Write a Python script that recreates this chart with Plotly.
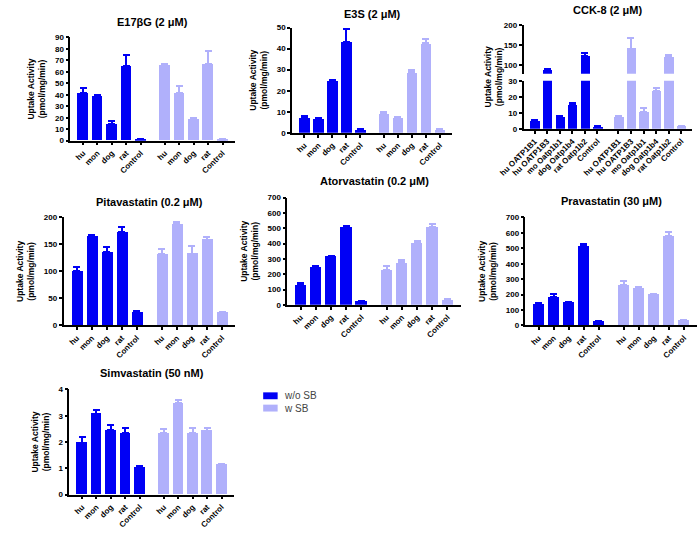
import plotly.graph_objects as go

species = ["hu", "mon", "dog", "rat", "Control"]
cck_labels = ["hu OATP1B1", "hu OATP1B3", "mo Oatp1b1", "dog Oatp1b4", "rat Oatp1b2", "Control"]
series_names = ["w/o SB", "w SB"]

# E17betaG (2 uM)
e17_wo = [41.5, 38.3, 14.5, 65.1, 1.2]
e17_wo_top = [46.0, 40.0, 16.9, 75.1, 1.6]
e17_w = [65.7, 41.5, 18.2, 66.9, 0.9]
e17_w_top = [67.1, 47.7, 19.6, 78.3, 1.1]

# E3S (2 uM)
e3s_wo = [7.3, 6.7, 24.9, 43.2, 1.5]
e3s_wo_top = [7.8, 6.9, 25.2, 49.4, 1.7]
e3s_w = [9.3, 7.2, 28.8, 42.5, 1.7]
e3s_w_top = [9.7, 7.4, 29.9, 44.6, 1.9]

# CCK-8 (2 uM)
cck_wo = [4.9, 85.0, 7.5, 15.3, 122.0, 1.2]
cck_wo_top = [5.3, 89.0, 7.8, 15.9, 131.0, 1.5]
cck_w = [7.6, 141.0, 10.8, 23.7, 120.0, 1.8]
cck_w_top = [7.8, 167.0, 12.9, 25.2, 125.0, 1.9]

# Pitavastatin (0.2 uM)
pita_wo = [100, 165, 135, 173, 25]
pita_wo_top = [108, 168, 145, 183, 26]
pita_w = [132, 187, 133, 159, 25]
pita_w_top = [141, 192, 147, 163, 25.5]

# Atorvastatin (0.2 uM)
ator_wo = [132, 249, 318, 510, 26]
ator_wo_top = [141, 251, 320, 518, 28]
ator_w = [228, 277, 403, 510, 32]
ator_w_top = [254, 292, 420, 527, 35]

# Pravastatin (30 uM)
prav_wo = [134, 185, 149, 512, 25]
prav_wo_top = [144, 206, 155, 527, 27]
prav_w = [261, 242, 200, 578, 32]
prav_w_top = [287, 246, 206, 605, 35]

# Simvastatin (50 nM)
simv_wo = [1.97, 3.07, 2.45, 2.33, 1.05]
simv_wo_top = [2.18, 3.22, 2.64, 2.55, 1.09]
simv_w = [2.33, 3.48, 2.33, 2.43, 1.13]
simv_w_top = [2.50, 3.58, 2.55, 2.53, 1.15]

C_WO = "#0000f5"
C_W = "#b0b0fb"
FONT = "Arial, Liberation Sans, sans-serif"
GROUP_GAP = 0.67
YTITLE = "Uptake Activity<br>(pmol/mg/min)"

fig = go.Figure()


def positions(n):
    a = [float(i) for i in range(n)]
    b = [n + GROUP_GAP + i for i in range(n)]
    return a, b


def add_panel(k, labels, wo, wo_top, w, w_top):
    n = len(labels)
    pa, pb = positions(n)
    xs = "x" if k == 1 else f"x{k}"
    ys = "y" if k == 1 else f"y{k}"
    for pos, vals, top, col, name in [(pa, wo, wo_top, C_WO, series_names[0]),
                                      (pb, w, w_top, C_W, series_names[1])]:
        fig.add_trace(go.Bar(
            x=pos, y=vals, xaxis=xs, yaxis=ys, name=name,
            marker=dict(color=col, line=dict(width=0)), width=0.74,
            error_y=dict(type="data", symmetric=False,
                         array=[t - v for t, v in zip(top, vals)],
                         arrayminus=[0] * n, color=col, thickness=2, width=3.5),
            showlegend=False,
        ))


add_panel(1, species, e17_wo, e17_wo_top, e17_w, e17_w_top)
add_panel(2, species, e3s_wo, e3s_wo_top, e3s_w, e3s_w_top)
add_panel(3, cck_labels, cck_wo, cck_wo_top, cck_w, cck_w_top)
add_panel(8, cck_labels, cck_wo, cck_wo_top, cck_w, cck_w_top)
add_panel(4, species, pita_wo, pita_wo_top, pita_w, pita_w_top)
add_panel(5, species, ator_wo, ator_wo_top, ator_w, ator_w_top)
add_panel(6, species, prav_wo, prav_wo_top, prav_w, prav_w_top)
add_panel(7, species, simv_wo, simv_wo_top, simv_w, simv_w_top)

W, H = 700, 535


def px_x(a, b):
    return [a / W, b / W]


def px_y(top, bottom):
    return [1 - bottom / H, 1 - top / H]


panels = {
    1: dict(xd=px_x(47, 218), yd=px_y(34, 139), yr=[0, 90], dt=10, labels=species, title="E17βG (2 μM)", ty=18),
    2: dict(xd=px_x(277, 443), yd=px_y(24, 131), yr=[0, 50], dt=10, labels=species, title="E3S (2 μM)", ty=10),
    3: dict(xd=px_x(517, 692), yd=px_y(78, 127), yr=[0, 30], dt=10, labels=cck_labels, title="CCK-8 (2 μM)", ty=6),
    4: dict(xd=px_x(40, 218), yd=px_y(217, 327), yr=[0, 200], dt=50, labels=species, title="Pitavastatin (0.2 μM)", ty=201),
    5: dict(xd=px_x(272, 452), yd=px_y(197, 306), yr=[0, 700], dt=100, labels=species, title="Atorvastatin (0.2 μM)", ty=180),
    6: dict(xd=px_x(519, 697), yd=px_y(217, 327), yr=[0, 700], dt=100, labels=species, title="Pravastatin (30 μM)", ty=200),
    7: dict(xd=px_x(46, 217), yd=px_y(392, 499), yr=[0, 4], dt=1, labels=species, title="Simvastatin (50 nM)", ty=375),
}

axis_common = dict(showline=True, linecolor="black", linewidth=1.5, ticks="outside",
                   tickcolor="black", tickwidth=1.5, showgrid=False, zeroline=False,
                   tickfont=dict(family=FONT, size=8, color="black", weight="bold"))

annotations = []
for k, p in panels.items():
    n = len(p["labels"])
    pa, pb = positions(n)
    xname = "xaxis" if k == 1 else f"xaxis{k}"
    yname = "yaxis" if k == 1 else f"yaxis{k}"
    anchor_y = "y" if k == 1 else f"y{k}"
    anchor_x = "x" if k == 1 else f"x{k}"
    fig.layout[xname] = dict(axis_common, domain=p["xd"], anchor=anchor_y,
                             range=[-0.88, 2 * n - 1 + GROUP_GAP + 0.88],
                             tickmode="array", tickvals=pa + pb, ticktext=p["labels"] * 2,
                             tickangle=-45, ticklen=3)
    ytitle = dict(text=YTITLE if k != 3 else "",
                  font=dict(family=FONT, size=8.5, color="black", weight="bold"), standoff=8)
    fig.layout[yname] = dict(axis_common, domain=p["yd"], anchor=anchor_x, range=p["yr"],
                             dtick=p["dt"], tick0=0, ticklen=3, title=ytitle)
    annotations.append(dict(text=p["title"], xref="paper", yref="paper",
                            x=(p["xd"][0] + p["xd"][1]) / 2, y=1 - p["ty"] / H,
                            xanchor="center", yanchor="middle", showarrow=False,
                            font=dict(family=FONT, size=11, color="black", weight="bold")))

# CCK-8 upper (broken) segment
n6 = len(cck_labels)
fig.layout["xaxis8"] = dict(domain=px_x(517, 692), anchor="y8", matches="x3", visible=False,
                            range=[-0.88, 2 * n6 - 1 + GROUP_GAP + 0.88])
fig.layout["yaxis8"] = dict(axis_common, domain=px_y(21.7, 71), anchor="x8", range=[77, 200],
                            tickmode="array", tickvals=[100, 150, 200], ticklen=3)
# shared y title for CCK-8
annotations.append(dict(text=YTITLE, xref="paper", yref="paper",
                        x=486 / W, y=1 - 74 / H, textangle=-90, showarrow=False,
                        xanchor="center", yanchor="middle",
                        font=dict(family=FONT, size=8.5, color="black", weight="bold")))

# legend (swatches + labels)
shapes = []
for i, (name, col) in enumerate(zip(series_names, [C_WO, C_W])):
    yc = 398.5 + i * 12.5
    shapes.append(dict(type="rect", xref="paper", yref="paper",
                       x0=247 / W, x1=262 / W, y0=1 - (yc + 3.5) / H, y1=1 - (yc - 3.5) / H,
                       fillcolor=col, line=dict(width=0)))
    annotations.append(dict(text=name, xref="paper", yref="paper", x=266 / W, y=1 - yc / H,
                            xanchor="left", yanchor="middle", showarrow=False,
                            font=dict(family=FONT, size=10, color="#444444")))

fig.update_layout(
    width=W, height=H, margin=dict(l=0, r=0, t=0, b=0),
    paper_bgcolor="white", plot_bgcolor="white",
    barmode="overlay", bargap=0, showlegend=False,
    annotations=annotations, shapes=shapes,
)

fig.write_html("out.html")
